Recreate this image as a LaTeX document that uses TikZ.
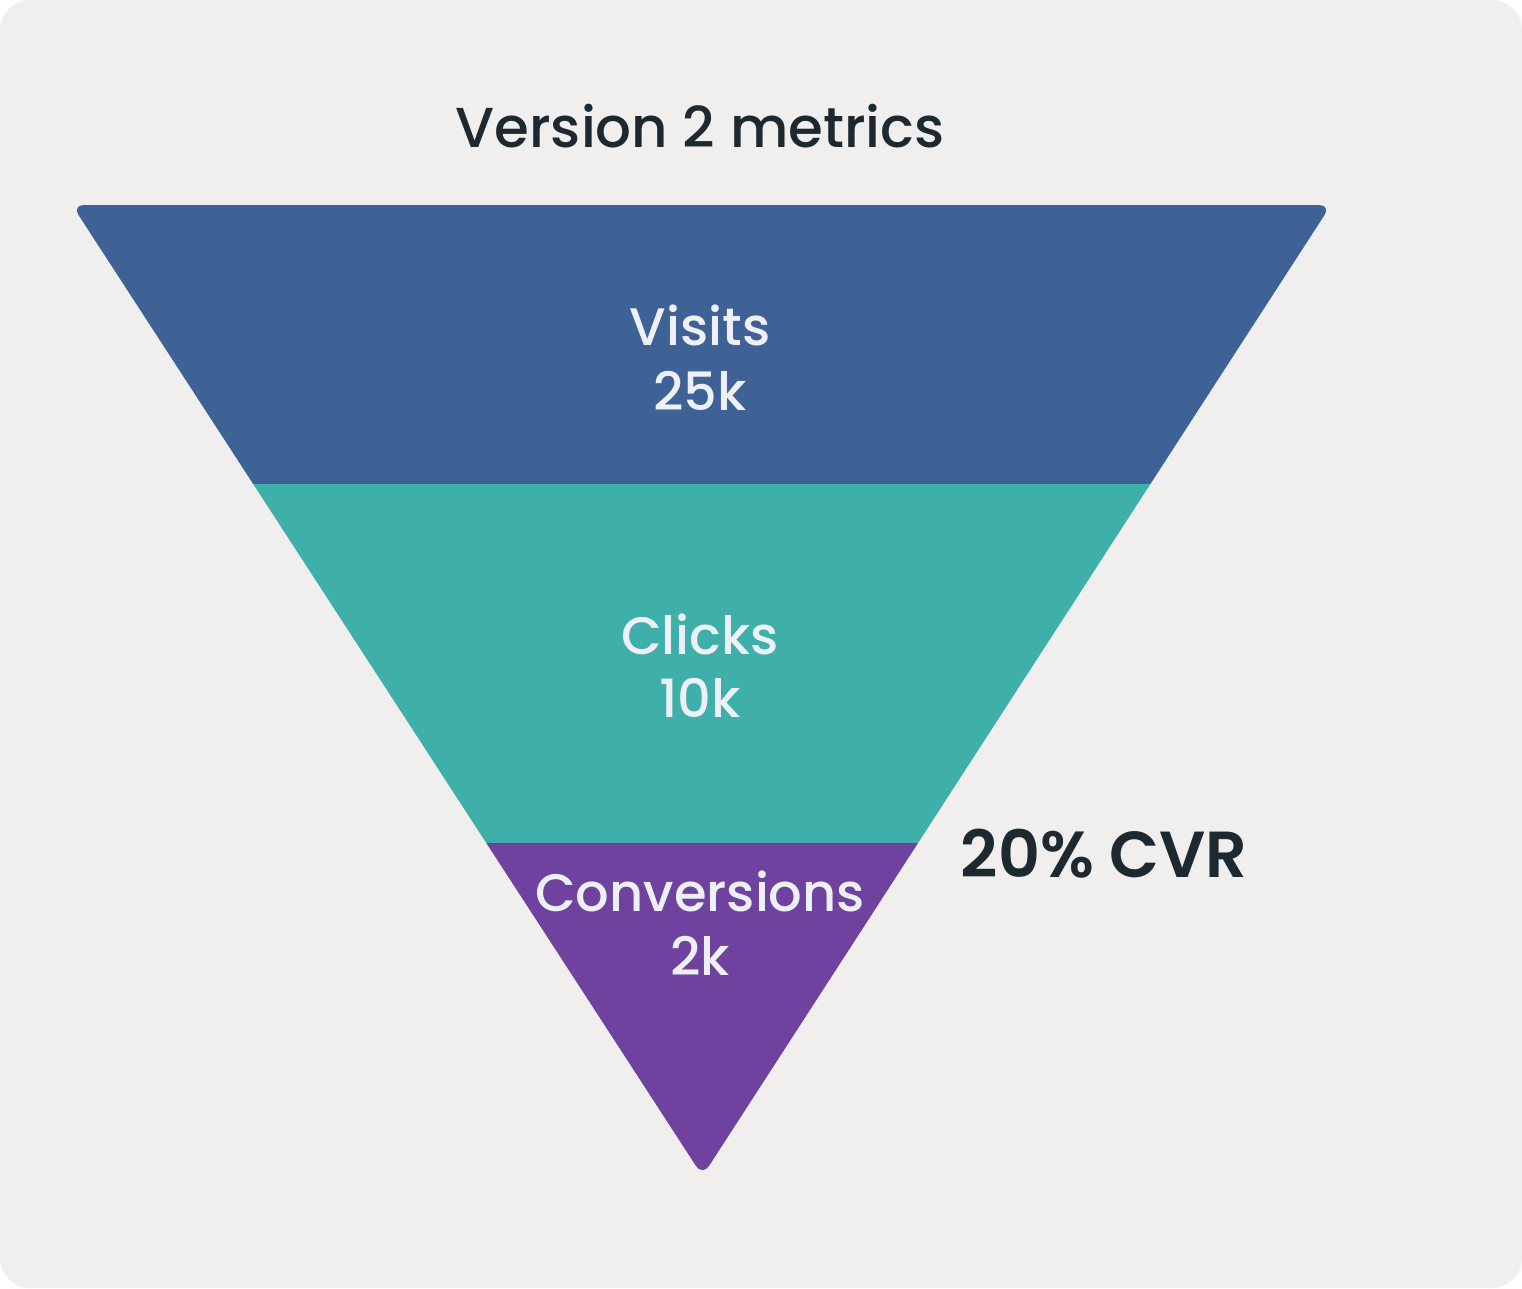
\documentclass[tikz,border=0pt]{standalone}
\usepackage{fontspec}
\setmainfont{Poppins}[UprightFont=* Medium,BoldFont=* SemiBold]
\definecolor{paper}{HTML}{F0EFED}
\definecolor{ink}{HTML}{1D2930}
\definecolor{visitsblue}{HTML}{3F6296}
\definecolor{clicksteal}{HTML}{3EAFA9}
\definecolor{convpurple}{HTML}{6F42A0}
\definecolor{labelwhite}{HTML}{EEF0F8}
\tikzset{
  stagelabel/.style={text=labelwhite,font=\fontsize{15}{17}\selectfont,anchor=base},
  cvrlabel/.style={text=ink,font=\fontsize{18.5}{20}\selectfont\bfseries,anchor=base west,inner sep=0pt}
}

\begin{document}
\begin{tikzpicture}[x=0.01cm,y=-0.01cm]
\useasboundingbox (0,0) rectangle (1522,1288);
\fill[paper,rounded corners=0.3cm] (0,0) rectangle (1522,1288);
\coordinate (L) at (72,205); \coordinate (R) at (1331,205); \coordinate (T) at (702.5,1176);
\begin{scope}
\clip[rounded corners=0.12cm] (L)--(R)--(T)--cycle;
\foreach \c/\ya/\yb in {visitsblue/190/484,clicksteal/484/843,convpurple/843/1190} \fill[\c] (0,\ya) rectangle (1522,\yb);
\end{scope}
\node[text=ink,font=\fontsize{16}{18}\selectfont,anchor=base] (title) at (700,148) {Version 2 metrics};
\foreach \n/\y/\t in {visits/345/Visits,visitsnum/410/25k,clicks/654/Clicks,clicksnum/717/10k,conv/911/Conversions,convnum/975/2k}
  \node[stagelabel] (\n) at (700,\y) {\t};
\node[cvrlabel] (cvr) at (960,877) {20\% CVR};
\end{tikzpicture}
\end{document}
